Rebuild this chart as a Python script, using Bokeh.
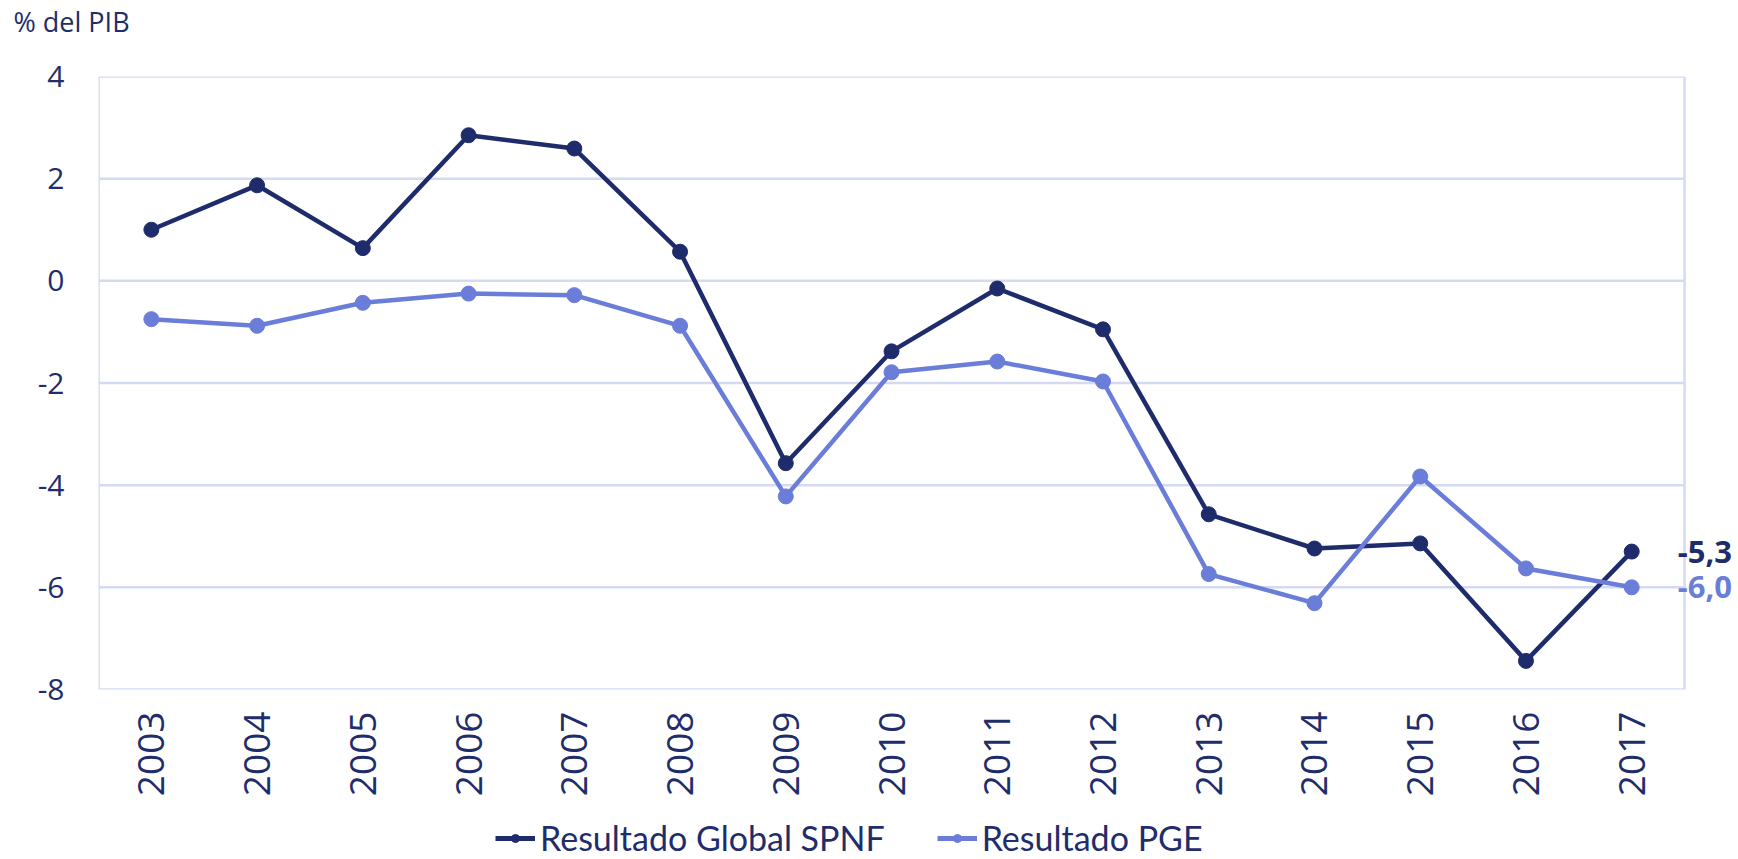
from bokeh.plotting import figure
from bokeh.models import Legend, LegendItem, Label, FixedTicker, Title, Range1d
from bokeh.layouts import column
from bokeh.embed import file_html
from bokeh.resources import INLINE
import math

years = ["2003", "2004", "2005", "2006", "2007", "2008", "2009", "2010",
         "2011", "2012", "2013", "2014", "2015", "2016", "2017"]
spnf = [1.0, 1.87, 0.64, 2.85, 2.59, 0.57, -3.57, -1.38, -0.15, -0.95,
        -4.57, -5.24, -5.14, -7.44, -5.3]
pge = [-0.75, -0.88, -0.43, -0.25, -0.28, -0.88, -4.22, -1.79, -1.58, -1.97,
       -5.74, -6.31, -3.83, -5.63, -6.0]
y_ticks = [-8, -6, -4, -2, 0, 2, 4]
name_spnf = "Resultado Global SPNF"
name_pge = "Resultado PGE"
unit_label = "% del PIB"

DARK = "#1f2c6c"
LIGHT = "#6a7dd8"
TEXT = "#1f2d6b"
GRID = "#d5daf3"
FONT = "Open Sans"

n = len(years)
x_pos = list(range(n))          # category slots
x_lo, x_hi = -0.5, n - 0.5      # category band edges
extra = 0.51                     # room on the right for the end labels

# top strip carrying the unit label
top = figure(width=1738, height=44, output_backend="svg", toolbar_location=None,
             min_border=0, x_range=Range1d(0, 1), y_range=Range1d(0, 1))
top.axis.visible = False
top.grid.visible = False
top.outline_line_color = None
top.title = Title(text=unit_label, align="left", offset=-85, standoff=0,
                  text_font=FONT, text_font_size="27px", text_color=TEXT,
                  text_font_style="normal")

p = figure(x_range=Range1d(x_lo, x_hi + extra), y_range=Range1d(y_ticks[0], y_ticks[-1]),
           width=1738, height=756, output_backend="svg", toolbar_location=None,
           min_border_left=98, min_border_right=0, min_border_top=32,
           min_border_bottom=111)

p.outline_line_color = None
p.xgrid.grid_line_color = None
p.ygrid.grid_line_color = None

# horizontal grid lines and the left / right frame borders
p.segment(x0=[x_lo] * len(y_ticks), x1=[x_hi] * len(y_ticks), y0=y_ticks, y1=y_ticks,
          line_color=GRID, line_width=2.5)
p.segment(x0=[x_lo, x_hi], x1=[x_lo, x_hi], y0=[y_ticks[0]] * 2, y1=[y_ticks[-1]] * 2,
          line_color=GRID, line_width=2.5)

p.yaxis.ticker = FixedTicker(ticks=y_ticks)
p.yaxis.major_label_overrides = {t: str(t) for t in y_ticks}
p.xaxis.ticker = FixedTicker(ticks=x_pos)
p.xaxis.major_label_overrides = {i: y for i, y in zip(x_pos, years)}
for ax in (p.xaxis, p.yaxis):
    ax.axis_line_color = None
    ax.major_tick_line_color = None
    ax.minor_tick_line_color = None
    ax.major_label_text_color = TEXT
    ax.major_label_text_font = FONT
p.yaxis.major_label_text_font_size = "30px"
p.yaxis.major_label_standoff = 28
p.xaxis.major_label_text_font_size = "37px"
p.xaxis.major_label_orientation = math.pi / 2
p.xaxis.major_label_standoff = 16

p.line(x_pos, spnf, line_color=DARK, line_width=4.5)
p.scatter(x_pos, spnf, size=15, fill_color=DARK, line_color=DARK)
p.line(x_pos, pge, line_color=LIGHT, line_width=4.5)
p.scatter(x_pos, pge, size=15, fill_color=LIGHT, line_color=LIGHT)

def fmt(v):
    return f"{v:.1f}".replace(".", ",")

p.add_layout(Label(x=x_pos[-1], y=spnf[-1], text=fmt(spnf[-1]), x_offset=46,
                   text_baseline="middle", text_font=FONT, text_font_style="bold",
                   text_font_size="31px", text_color=DARK))
p.add_layout(Label(x=x_pos[-1], y=pge[-1], text=fmt(pge[-1]), x_offset=46,
                   text_baseline="middle", text_font=FONT, text_font_style="bold",
                   text_font_size="31px", text_color=LIGHT))

# legend strip below the chart (its series sit outside its visible range)
lg = figure(width=1738, height=59, output_backend="svg", toolbar_location=None,
            min_border=0, x_range=Range1d(-100, -99), y_range=Range1d(-100, -99))
lg.axis.visible = False
lg.grid.visible = False
lg.outline_line_color = None
k1 = lg.line(x_pos, spnf, line_color=DARK, line_width=5)
k1s = lg.scatter(x_pos, spnf, size=14, fill_color=DARK, line_color=DARK)
k2 = lg.line(x_pos, pge, line_color=LIGHT, line_width=5)
k2s = lg.scatter(x_pos, pge, size=14, fill_color=LIGHT, line_color=LIGHT)
legend = Legend(items=[LegendItem(label=name_spnf, renderers=[k1, k1s]),
                       LegendItem(label=name_pge, renderers=[k2, k2s])],
                orientation="horizontal", location=(397, 1),
                label_text_font="Lato", label_text_font_size="34px",
                label_text_color=TEXT, glyph_width=40, glyph_height=20,
                label_standoff=5, spacing=52, padding=0, margin=0,
                border_line_color=None, background_fill_alpha=0)
lg.add_layout(legend, "center")

open("out.html", "w").write(file_html(column(top, p, lg, spacing=0), INLINE))
